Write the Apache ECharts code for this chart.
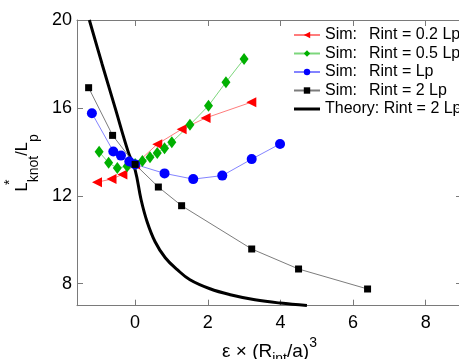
<!DOCTYPE html>
<html>
<head>
<meta charset="utf-8">
<script src="https://cdn.jsdelivr.net/npm/echarts@6/dist/echarts.min.js"></script>
<style>
html,body{margin:0;padding:0;background:#fff;}
#c{width:459px;height:359px;}
</style>
</head>
<body>
<div id="c"></div>
<script>
// ---- data ----
const xTicks = [0, 2, 4, 6, 8];
const yTicks = [8, 12, 16, 20];

const red_x = [-1.05, -0.65, -0.35, 0.0, 0.61, 1.28, 1.94, 3.2];
const red_y = [12.62, 12.76, 12.97, 13.42, 14.35, 15.03, 15.54, 16.26];

const green_x = [-0.99, -0.73, -0.49, -0.22, 0.0, 0.2, 0.41, 0.61, 0.81, 1.01, 1.51, 2.02, 2.5, 3.0];
const green_y = [14.0, 13.5, 13.26, 13.35, 13.45, 13.58, 13.75, 13.95, 14.17, 14.44, 15.23, 16.1, 17.17, 18.23];

const blue_x = [-1.19, -0.6, -0.39, -0.16, 0.0, 0.81, 1.6, 2.4, 3.21, 3.99];
const blue_y = [15.76, 14.02, 13.83, 13.56, 13.43, 13.02, 12.76, 12.92, 13.67, 14.36];

const black_x = [-1.28, -0.62, 0.0, 0.64, 1.28, 3.21, 4.5, 6.4];
const black_y = [16.92, 14.75, 13.43, 12.4, 11.55, 9.58, 8.67, 7.76];

const theory_x = [-1.26, -0.91, -0.55, -0.19, 0.0, 0.165, 0.33, 0.55, 0.83, 1.16, 1.51, 2.06, 2.62, 3.3, 3.99, 4.73];
const theory_y = [20.0, 18.0, 16.0, 14.0, 13.18, 11.82, 10.82, 9.91, 9.18, 8.64, 8.18, 7.77, 7.5, 7.27, 7.12, 7.01];

const names = ['Sim: Rint = 0.2 Lp', 'Sim: Rint = 0.5 Lp', 'Sim: Rint = Lp', 'Sim: Rint = 2 Lp', 'Theory: Rint = 2 Lp'];

function pairs(xs, ys) { return xs.map((x, i) => [x, ys[i]]); }

const FONT = 'Liberation Sans, Arial, sans-serif';
const axisGray = '#7a7a7a';

const chart = echarts.init(document.getElementById('c'), null, {renderer: 'canvas'});

function simSeries(name, xs, ys, color, lineColor, symbol, size, rotate) {
  return {
    name: name, type: 'line', xAxisIndex: 0, yAxisIndex: 0,
    data: pairs(xs, ys),
    symbol: symbol, symbolSize: size, symbolRotate: rotate || 0,
    showAllSymbol: true,
    itemStyle: {color: color},
    lineStyle: {color: lineColor, width: 1},
    emphasis: {disabled: true},
    animation: false,
    z: 3
  };
}

const option = {
  animation: false,
  textStyle: {fontFamily: FONT},
  grid: {left: 77, top: 20, right: -3, bottom: 53.3, containLabel: false, outerBoundsMode: 'none'},
  legend: {
    show: true,
    left: 293, top: 27,
    orient: 'vertical',
    padding: 0,
    itemWidth: 26, itemHeight: 8, itemGap: 2.5,
    data: [
      {name: names[0]}, {name: names[1]}, {name: names[2]}, {name: names[3]},
      {name: names[4], icon: 'path://M0,0L26,0L26,3L0,3Z'}
    ],
    textStyle: {
      fontFamily: FONT, fontSize: 16, lineHeight: 16, color: '#000',
      rich: {
        a: {fontFamily: FONT, fontSize: 16, lineHeight: 16, color: '#000', width: 44},
        b: {fontFamily: FONT, fontSize: 16, lineHeight: 16, color: '#000'}
      }
    },
    formatter: function (n) {
      if (n.indexOf('Sim: ') === 0) return '{a|Sim:}{b|' + n.slice(5) + '}';
      return n;
    }
  },
  xAxis: [{
    type: 'value', position: 'bottom', min: -1.6, max: 9,
    axisLine: {show: true, onZero: false, lineStyle: {color: axisGray, width: 1}},
    axisTick: {show: true, inside: true, length: 6, customValues: xTicks, lineStyle: {color: axisGray}},
    axisLabel: {show: true, customValues: xTicks, fontSize: 18, color: '#000', fontFamily: FONT, margin: 8},
    splitLine: {show: false},
    name: '{t|ε × (R}{sub|int}{t|/a)}{sup|3}',
    nameLocation: 'middle', nameGap: 26,
    nameTextStyle: {
      fontFamily: FONT, color: '#000',
      rich: {
        t: {fontFamily: FONT, fontSize: 19, lineHeight: 30, color: '#000'},
        sub: {fontFamily: FONT, fontSize: 14, lineHeight: 14, verticalAlign: 'bottom', color: '#000'},
        sup: {fontFamily: FONT, fontSize: 14, lineHeight: 14, verticalAlign: 'top', color: '#000'}
      }
    }
  }, {
    type: 'value', position: 'top', min: -1.6, max: 9,
    axisLine: {show: true, onZero: false, lineStyle: {color: axisGray, width: 1}},
    axisTick: {show: true, inside: true, length: 6, customValues: xTicks, lineStyle: {color: axisGray}},
    axisLabel: {show: false},
    splitLine: {show: false}
  }],
  yAxis: [{
    type: 'value', position: 'left', min: 7, max: 20,
    axisLine: {show: true, onZero: false, lineStyle: {color: axisGray, width: 1}},
    axisTick: {show: true, inside: true, length: 6, customValues: yTicks, lineStyle: {color: axisGray}},
    axisLabel: {show: true, customValues: yTicks, fontSize: 18, color: '#000', fontFamily: FONT, margin: 5},
    splitLine: {show: false},
    name: '{t|L}{sup|*}{sub|knot}{t|/L}{sub|p}',
    nameLocation: 'middle', nameGap: 32,
    nameTextStyle: {
      fontFamily: FONT, color: '#000',
      rich: {
        t: {fontFamily: FONT, fontSize: 16.5, lineHeight: 38, color: '#000'},
        sub: {fontFamily: FONT, fontSize: 14, lineHeight: 15, verticalAlign: 'bottom', color: '#000'},
        sup: {fontFamily: FONT, fontSize: 14, lineHeight: 26, verticalAlign: 'top', width: 0, align: 'left', color: '#000'}
      }
    }
  }, {
    type: 'value', position: 'right', min: 7, max: 20,
    axisLine: {show: true, onZero: false, lineStyle: {color: axisGray, width: 1}},
    axisTick: {show: true, inside: true, length: 6, customValues: yTicks, lineStyle: {color: axisGray}},
    axisLabel: {show: false},
    splitLine: {show: false}
  }],
  series: [
    simSeries(names[0], red_x, red_y, '#ff0000', 'rgba(255,80,80,0.75)', 'triangle', [10, 10], 90),
    simSeries(names[1], green_x, green_y, '#00b000', 'rgba(80,200,80,0.75)', 'diamond', [9, 12], 0),
    simSeries(names[2], blue_x, blue_y, '#0000ff', 'rgba(90,90,255,0.75)', 'circle', 10, 0),
    simSeries(names[3], black_x, black_y, '#000000', 'rgba(110,110,110,0.9)', 'rect', 7, 0),
    {
      name: names[4], type: 'line', xAxisIndex: 0, yAxisIndex: 0,
      data: pairs(theory_x, theory_y),
      showSymbol: false, symbol: 'none',
      smooth: 0.4,
      lineStyle: {color: '#000', width: 3},
      itemStyle: {color: '#000'},
      emphasis: {disabled: true},
      z: 2
    }
  ]
};
chart.setOption(option);
</script>
</body>
</html>
